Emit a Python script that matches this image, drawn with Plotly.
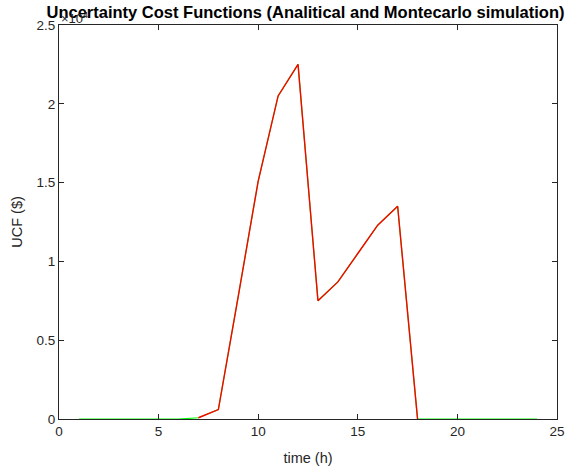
import plotly.graph_objects as go

# Analytical (green) and Montecarlo (red) uncertainty cost, in $
hours_analytical = list(range(1, 25))
ucf_analytical = [0, 0, 0, 0, 0, 0, 80, 600, 7800, 15100, 20500, 22500,
                  7500, 8700, 10500, 12300, 13500, 0, 0, 0, 0, 0, 0, 0]
hours_montecarlo = list(range(7, 19))
ucf_montecarlo = [80, 600, 7800, 15100, 20500, 22500, 7500, 8700, 10500,
                  12300, 13500, 0]

x_ticks = [0, 5, 10, 15, 20, 25]
y_ticks = [0, 5000, 10000, 15000, 20000, 25000]
y_tick_labels = ["0", "0.5", "1", "1.5", "2", "2.5"]

FONT = "Liberation Sans, Arial, sans-serif"
AX = "#262626"

fig = go.Figure()
fig.add_trace(go.Scatter(x=hours_analytical, y=ucf_analytical, mode="lines",
                         line=dict(color="#00ff00", width=1.2), name="Analytical"))
fig.add_trace(go.Scatter(x=hours_montecarlo, y=ucf_montecarlo, mode="lines",
                         line=dict(color="#ff0000", width=1.4), name="Montecarlo"))

axis_common = dict(showgrid=False, zeroline=False, showline=True, linecolor=AX,
                   linewidth=1, mirror="ticks", ticks="inside", ticklen=5,
                   tickcolor=AX, automargin=False,
                   tickfont=dict(family=FONT, size=13.5, color=AX))

fig.update_layout(
    width=573, height=472,
    margin=dict(l=59, r=16, t=25, b=53),
    paper_bgcolor="white", plot_bgcolor="white",
    showlegend=False,
    font=dict(family=FONT, color=AX),
    title=dict(text="<b>Uncertainty Cost Functions (Analitical and Montecarlo simulation)</b>",
               x=305.5 / 573, xanchor="center", y=0.975, yanchor="middle",
               font=dict(family=FONT, size=16.5, color="black"), automargin=False),
    xaxis=dict(range=[0, 25], tickvals=x_ticks,
               title=dict(text="time (h)", font=dict(family=FONT, size=14.5, color=AX), standoff=14),
               **axis_common),
    yaxis=dict(range=[0, 25000], tickvals=y_ticks, ticktext=y_tick_labels,
               title=dict(text="UCF ($)", font=dict(family=FONT, size=14.5, color=AX), standoff=10),
               **axis_common),
    annotations=[dict(text="×10<sup>4</sup>", xref="paper", yref="paper", x=0, y=1,
                      xanchor="left", yanchor="bottom", showarrow=False, yshift=-3,
                      font=dict(family=FONT, size=13, color=AX))],
)

fig.write_html("out.html")
